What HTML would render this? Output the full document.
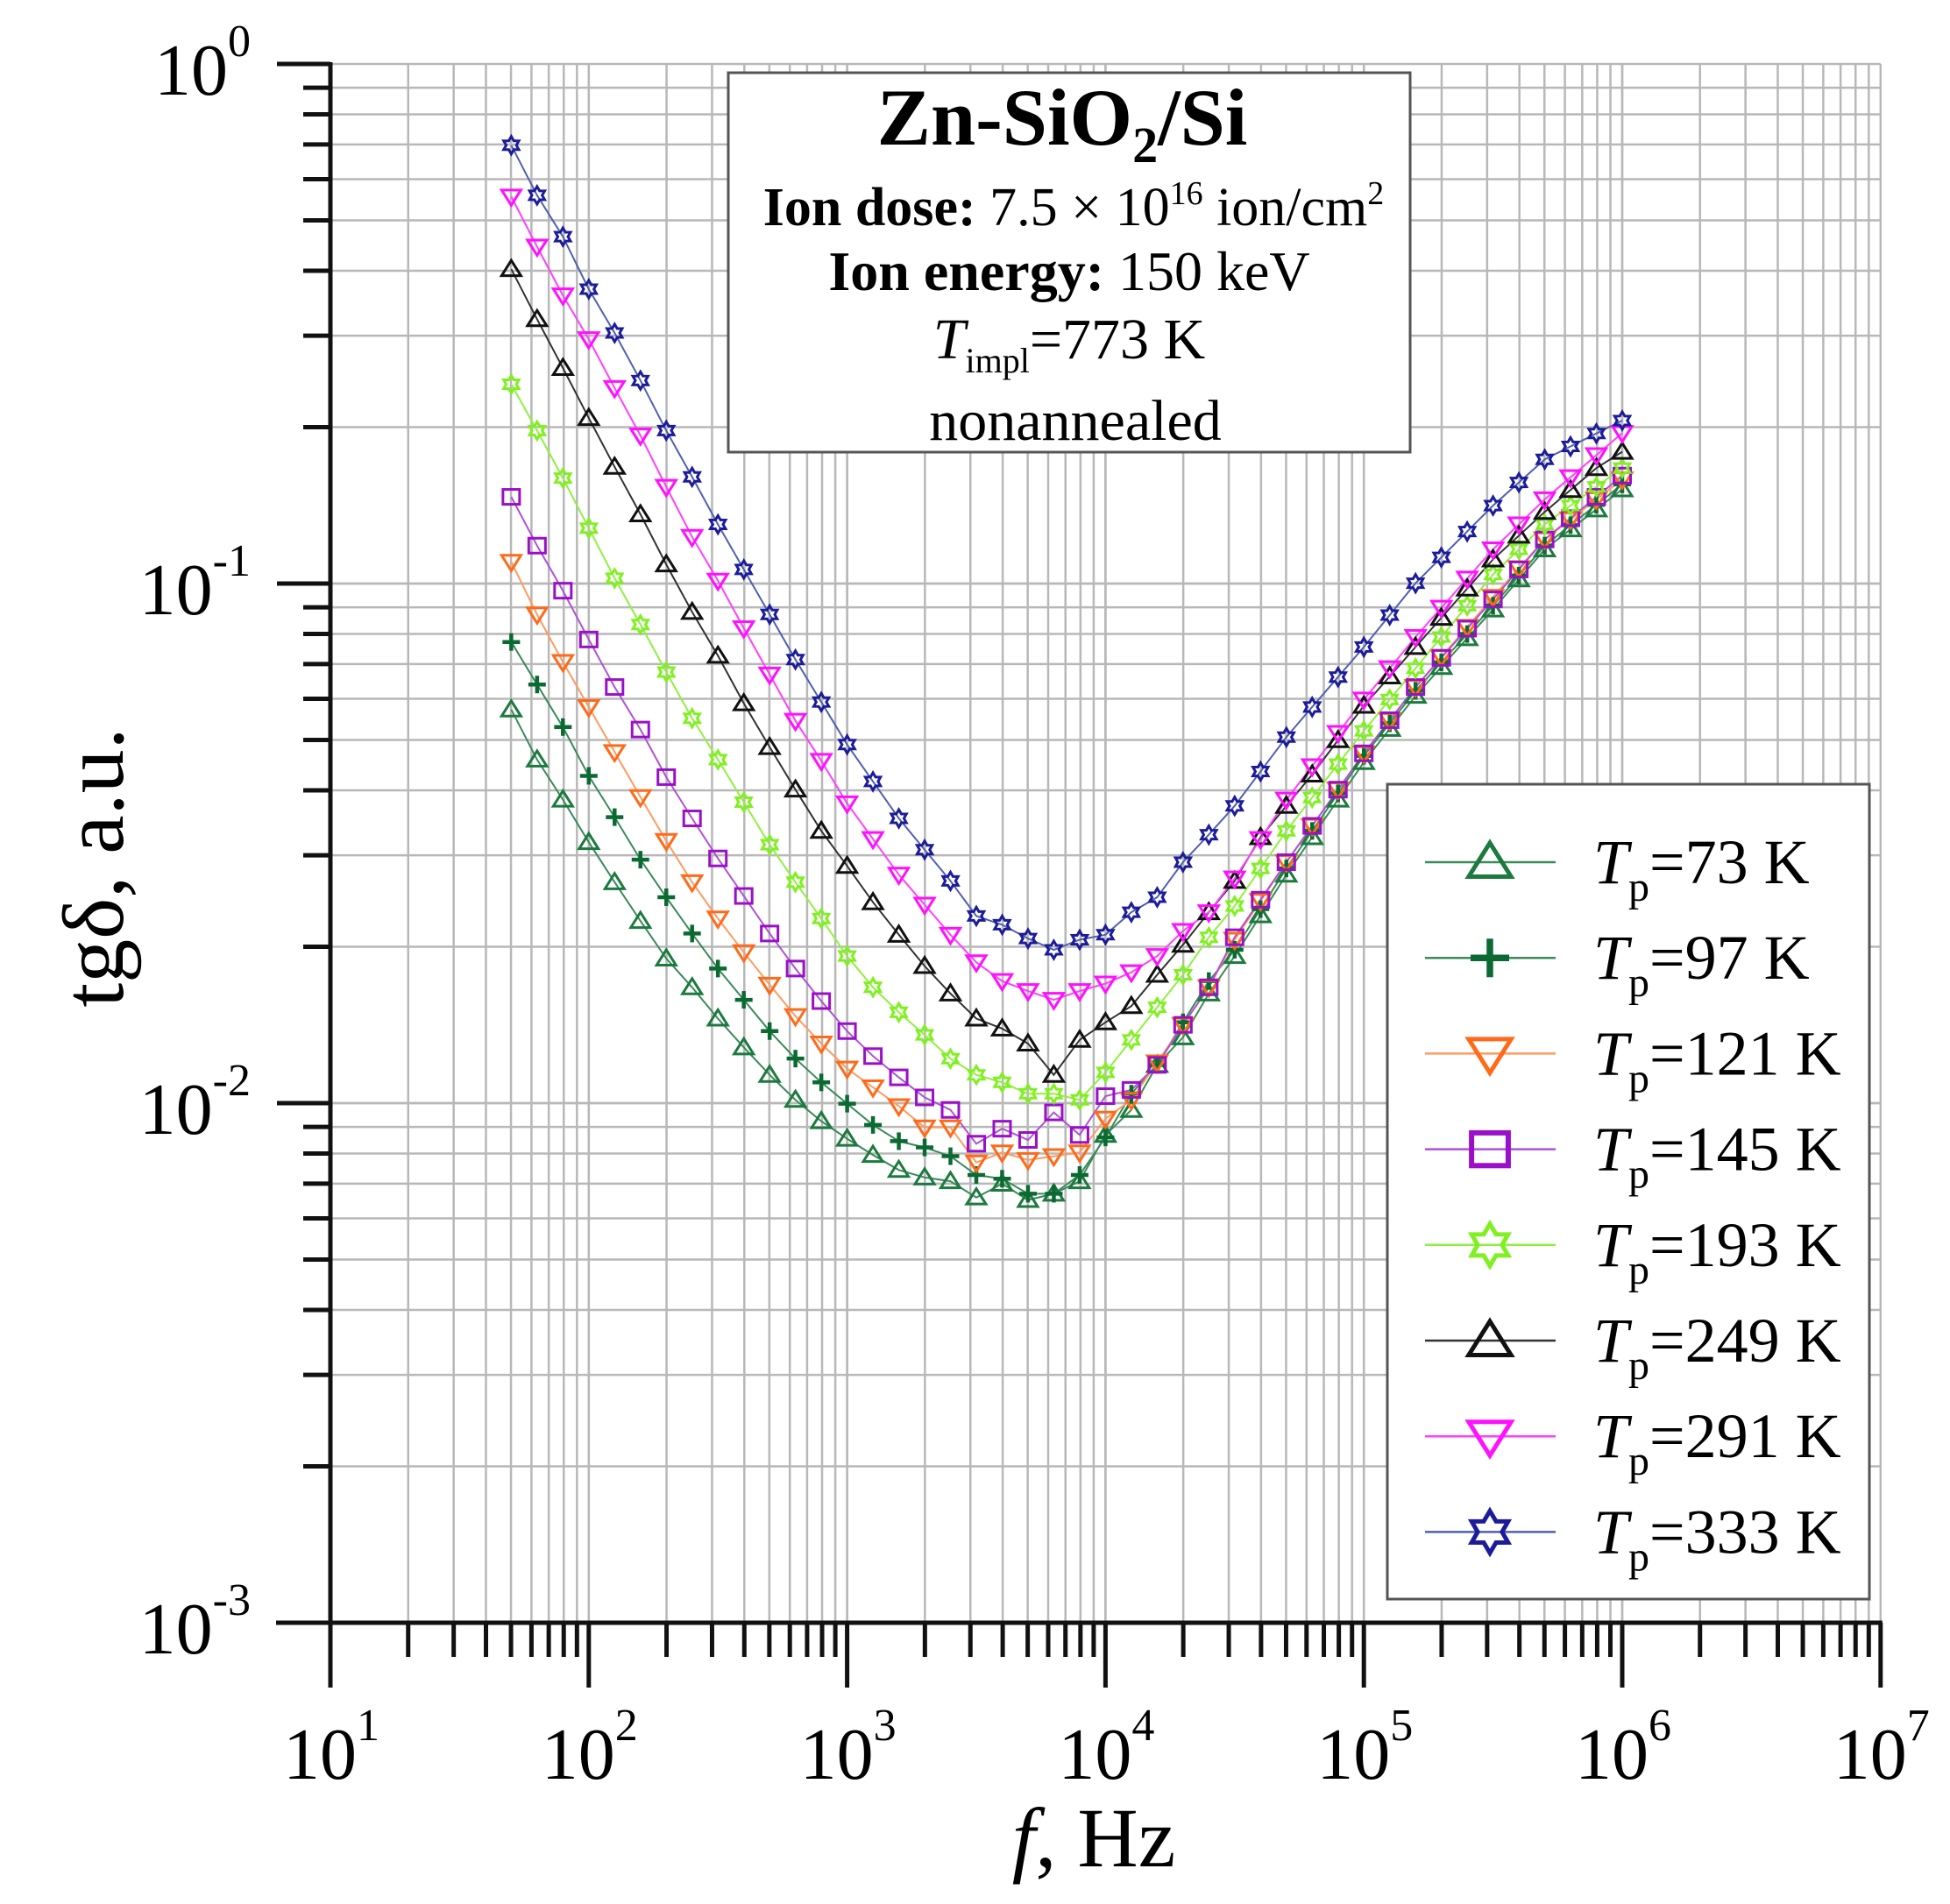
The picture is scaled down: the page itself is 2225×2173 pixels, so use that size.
<!DOCTYPE html>
<html><head><meta charset="utf-8"><style>
html,body{margin:0;padding:0;background:#fff;}
svg{display:block;font-family:"Liberation Serif",serif;}
</style></head><body>
<svg id="s" width="2225" height="2173" viewBox="0 0 2225 2173" xmlns="http://www.w3.org/2000/svg">
<rect width="2225" height="2173" fill="#fff"/>
<g id="grid"></g>
<g id="series"></g>
<g id="axes"></g>
<!-- info box -->
<rect x="831" y="83" width="778" height="433" fill="#fff" stroke="#555" stroke-width="3"/>
<text x="1212" y="165" text-anchor="middle" font-size="92" font-weight="bold">Zn-SiO<tspan font-size="58" dy="20">2</tspan><tspan dy="-20">/Si</tspan></text>
<text x="1225" y="257" text-anchor="middle" font-size="62"><tspan font-weight="bold">Ion dose:</tspan> 7.5 × 10<tspan font-size="38" dy="-24">16</tspan><tspan dy="24"> ion/cm</tspan><tspan font-size="38" dy="-24">2</tspan></text>
<text x="1220" y="331" text-anchor="middle" font-size="64"><tspan font-weight="bold">Ion energy:</tspan> 150 keV</text>
<text x="1220" y="409" text-anchor="middle" font-size="66"><tspan font-style="italic">T</tspan><tspan font-size="40" dy="16">impl</tspan><tspan dy="-16">=773 K</tspan></text>
<text x="1227" y="502" text-anchor="middle" font-size="66">nonannealed</text>
<!-- legend -->
<rect x="1583" y="895" width="550" height="930" fill="#fff" stroke="#555" stroke-width="3"/>
<g id="legend"></g>
<!-- axis labels -->
<text transform="translate(140,990) rotate(-90)" text-anchor="middle" font-size="100">tgδ, a.u.</text>
<text x="1248" y="2130" text-anchor="middle" font-size="96"><tspan font-style="italic">f</tspan>, Hz</text>
</svg>
<script>
var NS="http://www.w3.org/2000/svg";
function el(p,t,a){var e=document.createElementNS(NS,t);for(var k in a)e.setAttribute(k,a[k]);p.appendChild(e);return e;}
var X0=377,DX=294.8,Y0=73,DY=593;
function X(lf){return X0+(lf-1)*DX;}
function Yv(lv){return Y0-lv*DY;}
function Yd(yd){return Y0+(yd-52)*1.4279;}
var grid=document.getElementById('grid'),axes=document.getElementById('axes');
var L=X(1),R=X(7),T=Yv(0),B=Yv(-3);
for(var d=1;d<7;d++)for(var m=1;m<=10;m++){var x=X(d+Math.log10(m));el(grid,'line',{x1:x,y1:T,x2:x,y2:B,stroke:'#b8b8b8','stroke-width':2.5});}
for(var d=-3;d<0;d++)for(var m=1;m<=10;m++){var y=Yv(d+Math.log10(m));el(grid,'line',{x1:L,y1:y,x2:R,y2:y,stroke:'#b8b8b8','stroke-width':2.5});}
el(axes,'line',{x1:L,y1:T-2,x2:L,y2:B+3,stroke:'#111','stroke-width':5});
el(axes,'line',{x1:315,y1:B,x2:R+2,y2:B,stroke:'#111','stroke-width':5});
for(var d=-3;d<=0;d++){var y=Yv(d);el(axes,'line',{x1:316,y1:y,x2:L,y2:y,stroke:'#111','stroke-width':5});
 if(d<0)for(var m=2;m<10;m++){var yy=Yv(d+Math.log10(m));el(axes,'line',{x1:346,y1:yy,x2:L,y2:yy,stroke:'#111','stroke-width':5});}}
for(var d=1;d<=7;d++){var x=X(d);el(axes,'line',{x1:x,y1:B,x2:x,y2:1926,stroke:'#111','stroke-width':5});
 if(d<7)for(var m=2;m<10;m++){var xx=X(d+Math.log10(m));el(axes,'line',{x1:xx,y1:B,x2:xx,y2:1891,stroke:'#111','stroke-width':5});}}
function lab(x,y,base,exp,anchor){var t=el(axes,'text',{x:x,y:y,'font-size':84,'text-anchor':anchor});t.textContent=base;var s=el(t,'tspan',{'font-size':52,dy:-44});s.textContent=exp;}
lab(286,Yv(0)+35,'10','0','end');lab(286,Yv(-1)+35,'10','-1','end');lab(286,Yv(-2)+35,'10','-2','end');lab(286,Yv(-3)+35,'10','-3','end');
for(var d=1;d<=7;d++)lab(X(d)-54,2030,'10',''+d,'start');
var S=[
{c:'#1d7a3e',lc:'#3a8a5a',m:'tu',p:[[1.7,568],[1.8,608],[1.9,640],[2.0,674],[2.1,706],[2.2,737],[2.3,767],[2.4,790],[2.5,815],[2.6,838],[2.7,860],[2.8,880],[2.9,897],[3.0,911],[3.1,924],[3.2,936],[3.3,942],[3.4,945],[3.5,958],[3.6,947],[3.7,960],[3.8,955],[3.9,945],[4.0,908],[4.1,888],[4.2,852],[4.3,830],[4.4,795],[4.5,765],[4.7,700],[5.0,610],[5.2,557],[5.5,488],[5.7,440],[6.0,392]]},
{c:'#0b6a32',lc:'#3a8a5a',m:'plus',p:[[1.7,514],[1.8,548],[1.9,582],[2.0,621],[2.1,654],[2.2,688],[2.3,718],[2.4,747],[2.5,775],[2.6,800],[2.7,825],[2.8,847],[2.9,866],[3.0,883],[3.1,900],[3.2,913],[3.3,918],[3.4,925],[3.5,940],[3.6,943],[3.7,955],[3.8,955],[3.9,940],[4.0,910],[4.1,875],[4.2,852],[4.3,818],[4.4,785],[4.5,760],[4.7,695],[5.0,605],[5.2,553],[5.5,485],[5.7,437],[6.0,388]]},
{c:'#ff6a1a',lc:'#ff9a60',m:'td',p:[[1.7,450],[1.8,492],[1.9,530],[2.0,566],[2.1,602],[2.2,638],[2.3,673],[2.4,706],[2.5,735],[2.6,762],[2.7,788],[2.8,813],[2.9,835],[3.0,855],[3.1,870],[3.2,885],[3.3,902],[3.4,902],[3.5,930],[3.6,922],[3.7,928],[3.8,925],[3.9,922],[4.0,895],[4.1,880],[4.2,850],[4.3,820],[4.4,790],[4.5,752],[4.7,690],[5.0,603],[5.2,550],[5.5,478],[5.7,432],[6.0,384]]},
{c:'#9a10c8',lc:'#b050d8',m:'sq',p:[[1.7,398],[1.8,437],[1.9,473],[2.0,512],[2.1,550],[2.2,584],[2.3,622],[2.4,655],[2.5,687],[2.6,717],[2.7,747],[2.8,775],[2.9,801],[3.0,825],[3.1,845],[3.2,862],[3.3,878],[3.4,888],[3.5,915],[3.6,903],[3.7,912],[3.8,890],[3.9,908],[4.0,877],[4.1,872],[4.2,852],[4.3,820],[4.4,790],[4.5,750],[4.7,690],[5.0,603],[5.2,550],[5.5,480],[5.7,432],[6.0,381]]},
{c:'#80f020',lc:'#90f040',m:'star',p:[[1.7,308],[1.8,345],[1.9,383],[2.0,423],[2.1,463],[2.2,500],[2.3,538],[2.4,575],[2.5,608],[2.6,642],[2.7,676],[2.8,706],[2.9,735],[3.0,765],[3.1,790],[3.2,810],[3.3,828],[3.4,847],[3.5,860],[3.6,866],[3.7,875],[3.8,875],[3.9,880],[4.0,858],[4.1,832],[4.2,806],[4.3,780],[4.4,750],[4.5,725],[4.7,665],[5.0,585],[5.2,535],[5.5,460],[5.7,420],[6.0,375]]},
{c:'#111',lc:'#333',m:'tu',p:[[1.7,216],[1.8,256],[1.9,295],[2.0,335],[2.1,374],[2.2,412],[2.3,452],[2.4,490],[2.5,525],[2.6,563],[2.7,598],[2.8,632],[2.9,665],[3.0,693],[3.1,722],[3.2,748],[3.3,773],[3.4,795],[3.5,815],[3.6,823],[3.7,835],[3.8,860],[3.9,832],[4.0,818],[4.1,805],[4.2,780],[4.3,756],[4.4,730],[4.5,705],[4.6,670],[4.7,645],[4.8,620],[5.0,565],[5.2,518],[5.5,448],[5.7,410],[5.9,375],[6.0,362]]},
{c:'#ff10ff',lc:'#ff40ff',m:'td',p:[[1.7,158],[1.8,198],[1.9,237],[2.0,272],[2.1,311],[2.2,349],[2.3,390],[2.4,430],[2.5,465],[2.6,503],[2.7,540],[2.8,577],[2.9,609],[3.0,643],[3.2,700],[3.4,748],[3.5,770],[3.6,785],[3.7,793],[3.8,800],[3.9,793],[4.0,787],[4.1,778],[4.2,765],[4.3,745],[4.4,730],[4.5,703],[4.7,640],[5.0,560],[5.2,510],[5.5,440],[5.7,400],[6.0,347]]},
{c:'#1c1c9a',lc:'#5060b0',m:'star',p:[[1.7,117],[1.8,157],[1.9,190],[2.0,232],[2.1,267],[2.2,305],[2.3,345],[2.4,382],[2.5,420],[2.6,456],[2.7,492],[2.8,528],[2.9,562],[3.0,596],[3.2,655],[3.4,705],[3.5,733],[3.6,740],[3.7,751],[3.8,760],[3.9,752],[4.0,748],[4.1,730],[4.2,718],[4.3,690],[4.4,668],[4.5,645],[4.7,590],[5.0,518],[5.2,467],[5.5,405],[5.7,368],[6.0,337]]}
];
function interp(p,x){for(var i=0;i<p.length-1;i++){if(x<=p[i+1][0]+1e-9){var t=(x-p[i][0])/(p[i+1][0]-p[i][0]);return p[i][1]+t*(p[i+1][1]-p[i][1]);}}return p[p.length-1][1];}
function marker(g,type,x,y,c,sz,sw){
 var r=sz;
 if(type=='tu')el(g,'polygon',{points:[x,y-r,x+r*1.1,y+r*0.75,x-r*1.1,y+r*0.75].join(' '),fill:'none',stroke:c,'stroke-width':sw});
 else if(type=='td')el(g,'polygon',{points:[x,y+r,x+r*1.1,y-r*0.75,x-r*1.1,y-r*0.75].join(' '),fill:'none',stroke:c,'stroke-width':sw});
 else if(type=='sq')el(g,'rect',{x:x-r*0.95,y:y-r*0.85,width:r*1.9,height:r*1.7,fill:'none',stroke:c,'stroke-width':sw});
 else if(type=='plus'){el(g,'line',{x1:x-r,y1:y,x2:x+r,y2:y,stroke:c,'stroke-width':sw*1.5});el(g,'line',{x1:x,y1:y-r,x2:x,y2:y+r,stroke:c,'stroke-width':sw*1.5});}
 else if(type=='star'){var pts=[];for(var k=0;k<12;k++){var a=-Math.PI/2+k*Math.PI/6;var rr=(k%2==0)?r:r*0.58;pts.push((x+rr*Math.cos(a)).toFixed(1)+','+(y+rr*Math.sin(a)).toFixed(1));}el(g,'polygon',{points:pts.join(' '),fill:'none',stroke:c,'stroke-width':sw});}
}
var sg=document.getElementById('series');
S.forEach(function(s){
 var pts=[];for(var i=0;i<=43;i++){var lf=1.7+i*0.1;pts.push([X(lf),Yd(interp(s.p,lf))]);}
 el(sg,'polyline',{points:pts.map(function(q){return q[0].toFixed(1)+','+q[1].toFixed(1);}).join(' '),fill:'none',stroke:s.lc,'stroke-width':2});
 s.pts=pts;
});
S.forEach(function(s){s.pts.forEach(function(q){marker(sg,s.m,q[0],q[1],s.c,10,3);});});
var lg=document.getElementById('legend');
var labels=['73','97','121','145','193','249','291','333'];
S.forEach(function(s,i){
 var y=984+i*109.2;
 el(lg,'line',{x1:1626,y1:y,x2:1775,y2:y,stroke:s.lc,'stroke-width':2.5});
 marker(lg,s.m,1700,y,s.c,s.m=='star'?24:22,s.m=='sq'?6:5);
 var t=el(lg,'text',{x:1818,y:y+24,'font-size':72});
 var a=el(t,'tspan',{'font-style':'italic'});a.textContent='T';
 var b=el(t,'tspan',{'font-size':48,dy:20});b.textContent='p';
 var c=el(t,'tspan',{dy:-20});c.textContent='='+labels[i]+' K';
});
</script>
</body></html>
